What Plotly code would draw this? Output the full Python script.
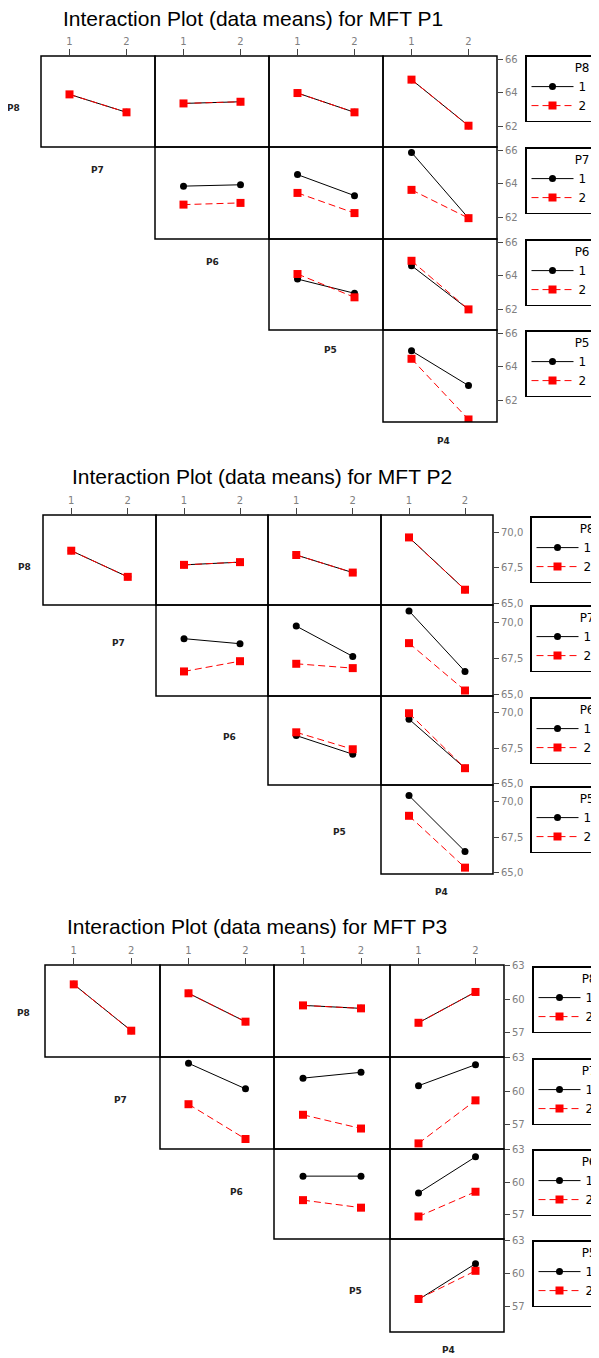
import plotly.graph_objects as go

W, H = 599, 1358
OFF = 8  # default page margin of the html body

# ---------------- data ----------------
levels = [1, 2]
x_factors = ["P7", "P6", "P5", "P4"]          # factor on the x axis, by column
legend_factors = ["P8", "P7", "P6", "P5"]     # factor drawn as lines, by row
plot_titles = [
    "Interaction Plot (data means) for MFT P1",
    "Interaction Plot (data means) for MFT P2",
    "Interaction Plot (data means) for MFT P3",
]

# MFT P1 means: each pair = [mean at x level 1, mean at x level 2]
p1_P8_level1 = [[63.89, 62.82], [63.35, 63.45], [63.97, 62.82], [64.77, 62.02]]
p1_P8_level2 = [[63.89, 62.82], [63.35, 63.45], [63.97, 62.82], [64.77, 62.02]]
p1_P7_level1 = [[63.87, 63.95], [64.55, 63.31], [65.86, 61.98]]
p1_P7_level2 = [[62.78, 62.88], [63.47, 62.28], [63.65, 61.98]]
p1_P6_level1 = [[63.79, 62.94], [64.59, 61.98]]
p1_P6_level2 = [[64.09, 62.70], [64.88, 61.98]]
p1_P5_level1 = [[64.95, 62.90]]
p1_P5_level2 = [[64.48, 60.90]]

# MFT P2 means
p2_P8_level1 = [[68.70, 66.87], [67.71, 67.90], [68.40, 67.17], [69.63, 65.97]]
p2_P8_level2 = [[68.70, 66.87], [67.71, 67.90], [68.40, 67.17], [69.63, 65.97]]
p2_P7_level1 = [[68.87, 68.52], [69.74, 67.64], [70.79, 66.60]]
p2_P7_level2 = [[66.60, 67.31], [67.13, 66.83], [68.56, 65.28]]
p2_P6_level1 = [[68.40, 67.08], [69.56, 66.09]]
p2_P6_level2 = [[68.63, 67.43], [69.98, 66.09]]
p2_P5_level1 = [[70.45, 66.50]]
p2_P5_level2 = [[69.02, 65.35]]

# MFT P3 means
p3_P8_level1 = [[61.33, 57.12], [60.52, 57.94], [59.42, 59.15], [57.84, 60.64]]
p3_P8_level2 = [[61.33, 57.12], [60.52, 57.94], [59.42, 59.15], [57.84, 60.64]]
p3_P7_level1 = [[62.52, 60.20], [61.17, 61.70], [60.48, 62.39]]
p3_P7_level2 = [[58.80, 55.64], [57.84, 56.59], [55.24, 59.15]]
p3_P6_level1 = [[60.57, 60.57], [59.00, 62.36]]
p3_P6_level2 = [[58.34, 57.64], [56.82, 59.12]]
p3_P5_level1 = [[57.65, 60.87]]
p3_P5_level2 = [[57.70, 60.23]]

p1_yticks = [62, 64, 66]
p1_yticklabels = ["62", "64", "66"]
p2_yticks = [65.0, 67.5, 70.0]
p2_yticklabels = ["65,0", "67,5", "70,0"]
p3_yticks = [57, 60, 63]
p3_yticklabels = ["57", "60", "63"]

# ---------------- layout geometry (pixels in the page) ----------------
plots = [
    dict(title=plot_titles[0], title_xy=(253, 19),
         data=[(p1_P8_level1, p1_P8_level2), (p1_P7_level1, p1_P7_level2),
               (p1_P6_level1, p1_P6_level2), (p1_P5_level1, p1_P5_level2)],
         cols=[41, 155, 269, 383, 497], rows=[56, 147, 239, 330, 422],
         yrange=[60.75, 66.18], yticks=p1_yticks, yticklabels=p1_yticklabels,
         leg_left=525, leg_tops=[55, 147, 239, 330],
         labels_xy=[(13, 108), (97, 170), (212, 262), (330, 350), (443, 441)]),
    dict(title=plot_titles[1], title_xy=(262, 476),
         data=[(p2_P8_level1, p2_P8_level2), (p2_P7_level1, p2_P7_level2),
               (p2_P6_level1, p2_P6_level2), (p2_P5_level1, p2_P5_level2)],
         cols=[43, 156, 268, 381, 493], rows=[515, 605, 696, 785, 874],
         yrange=[64.9, 71.2], yticks=p2_yticks, yticklabels=p2_yticklabels,
         leg_left=530, leg_tops=[516, 605, 697, 786],
         labels_xy=[(24, 567), (118, 643), (229, 737), (339, 832), (441, 892)]),
    dict(title=plot_titles[2], title_xy=(257, 926),
         data=[(p3_P8_level1, p3_P8_level2), (p3_P7_level1, p3_P7_level2),
               (p3_P6_level1, p3_P6_level2), (p3_P5_level1, p3_P5_level2)],
         cols=[45, 160, 274, 390, 504], rows=[965, 1057, 1149, 1239, 1332],
         yrange=[54.73, 63.09], yticks=p3_yticks, yticklabels=p3_yticklabels,
         leg_left=532, leg_tops=[966, 1058, 1149, 1240],
         labels_xy=[(23, 1013), (120, 1100), (236, 1192), (355, 1291), (448, 1350)]),
]

FONT = "Liberation Sans, Arial, sans-serif"
SMALL = "DejaVu Sans"
TICKGRAY = "#808080"

FW, FH = W - OFF, H - OFF

fig = go.Figure()
layout = dict(
    width=FW, height=FH, autosize=False,
    margin=dict(l=0, r=0, t=0, b=0, autoexpand=False),
    paper_bgcolor="white", plot_bgcolor="white",
    font=dict(family=FONT, color="black"),
    annotations=[], shapes=[],
)


def px_x(v):
    return (v - OFF) / FW


def px_y(v):
    return 1 - (v - OFF) / FH


n = 0
leg_n = 0
for p in plots:
    layout["annotations"].append(dict(
        text=p["title"], x=px_x(p["title_xy"][0]), y=px_y(p["title_xy"][1]),
        xref="paper", yref="paper", showarrow=False, xanchor="center", yanchor="middle",
        font=dict(size=21, family=FONT, color="black")))
    for name, (lx, ly) in zip(legend_factors + [x_factors[-1]], p["labels_xy"]):
        layout["annotations"].append(dict(
            text=f"<b>{name}</b>", x=px_x(lx), y=px_y(ly), xref="paper", yref="paper",
            showarrow=False, xanchor="center", yanchor="middle",
            font=dict(size=9, family=SMALL, color="#222")))
    for r in range(4):
        leg_n += 1
        leg_id = "legend" if leg_n == 1 else f"legend{leg_n}"
        layout[leg_id] = dict(
            x=px_x(p["leg_left"]), y=px_y(p["leg_tops"][r]), xanchor="left", yanchor="top",
            xref="paper", yref="paper",
            bordercolor="black", borderwidth=1.5, bgcolor="white",
            title=dict(text=legend_factors[r], side="top right",
                       font=dict(size=12, family=SMALL, color="black")),
            font=dict(size=12, family=SMALL, color="black"),
            itemwidth=42, tracegroupgap=0)
        lvl1, lvl2 = p["data"][r]
        for c in range(r, 4):
            n += 1
            top_row = (r == 0)
            right_col = (c == 3)
            x0, x1 = p["cols"][c], p["cols"][c + 1]
            y0, y1 = p["rows"][r], p["rows"][r + 1]
            layout[f"xaxis{n}"] = dict(
                domain=[px_x(x0), px_x(x1)],
                anchor=f"y{n}", range=[0.5, 2.5],
                showline=False, showgrid=False, zeroline=False,
                side="top",
                tickvals=levels if top_row else [],
                ticktext=[str(v) for v in levels] if top_row else [],
                showticklabels=top_row,
                ticks="outside" if top_row else "", ticklen=6, tickcolor="#444", tickwidth=1,
                tickfont=dict(size=10, color=TICKGRAY, family=SMALL),
            )
            layout[f"yaxis{n}"] = dict(
                domain=[px_y(y1), px_y(y0)],
                anchor=f"x{n}", range=p["yrange"],
                showline=False, showgrid=False, zeroline=False,
                side="right",
                tickvals=p["yticks"] if right_col else [],
                ticktext=p["yticklabels"] if right_col else [],
                showticklabels=right_col,
                ticks="outside" if right_col else "", ticklen=5, tickcolor="#444", tickwidth=1,
                tickfont=dict(size=10, color=TICKGRAY, family=SMALL),
            )
            layout["shapes"].append(dict(
                type="rect", xref="paper", yref="paper",
                x0=px_x(x0), x1=px_x(x1), y0=px_y(y1), y1=px_y(y0),
                line=dict(color="black", width=1.5), layer="above"))
            k = c - r
            fig.add_trace(go.Scatter(
                x=levels, y=lvl1[k], mode="lines+markers", name="1",
                line=dict(color="black", width=1),
                marker=dict(symbol="circle", size=7, color="black"),
                legend=leg_id, showlegend=(c == r),
                xaxis=f"x{n}", yaxis=f"y{n}", hoverinfo="x+y"))
            fig.add_trace(go.Scatter(
                x=levels, y=lvl2[k], mode="lines+markers", name="2",
                line=dict(color="red", width=1, dash="7px,4px"),
                marker=dict(symbol="square", size=8, color="red"),
                legend=leg_id, showlegend=(c == r),
                xaxis=f"x{n}", yaxis=f"y{n}", hoverinfo="x+y"))

fig.update_layout(**layout)
fig.write_html("out.html")
